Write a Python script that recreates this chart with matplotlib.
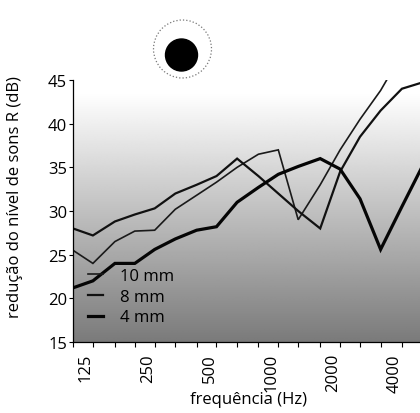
import numpy as np
import matplotlib
matplotlib.use("Agg")
import matplotlib.pyplot as plt
from matplotlib.patches import Circle
from matplotlib.transforms import ScaledTranslation

plt.rcParams['font.family'] = ['Open Sans', 'DejaVu Sans']

# third-octave band centres (Hz)
freqs = [100, 125, 160, 200, 250, 315, 400, 500, 630, 800, 1000, 1250,
         1600, 2000, 2500, 3150, 4000, 5000]

# sound reduction index R (dB) per glass thickness
r_10mm = [25.5, 24.0, 26.5, 27.7, 27.8, 30.2, 31.8, 33.3, 35.0, 36.5, 37.0, 29.0,
          33.0, 37.0, 40.5, 43.8, 48.0, np.nan]
r_8mm = [28.0, 27.2, 28.8, 29.6, 30.3, 32.0, 33.0, 34.0, 36.0, 34.0, 32.0, 30.0,
         28.0, 34.5, 38.5, 41.5, 44.0, 44.7]
r_4mm = [21.2, 22.0, 24.0, 24.0, 25.6, 26.8, 27.8, 28.2, 31.0, 32.7, 34.2, 35.1,
         36.0, 34.8, 31.4, 25.6, 30.5, 35.0]

labeled = [125, 250, 500, 1000, 2000, 4000]
yticks = [15, 20, 25, 30, 35, 40, 45]

W, H = 420, 414
fig = plt.figure(figsize=(W / 100, H / 100), dpi=100)
rect = [73 / W, 1 - 343 / H, 1 - 73 / W, 262 / H]

# shaded background, white at the top fading to grey at the bottom
bg = fig.add_axes(rect, zorder=0)
levels = np.linspace(45, 15, 400)
shade = np.clip(1 - (43.5 - levels) / 28.5 * 0.52, 0.45, 1.0)
bg.imshow(shade[:, None], cmap='gray', vmin=0, vmax=1, aspect='auto',
          extent=(0, 1, 0, 1), interpolation='bilinear')
bg.axis('off')

ax = fig.add_axes(rect, zorder=1)
ax.patch.set_visible(False)
ax.set_xscale('log')

ax.plot(freqs, r_10mm, color='#1a1a1a', lw=1.2, label='10 mm', solid_joinstyle='miter')
ax.plot(freqs, r_8mm, color='#111111', lw=1.6, label='8 mm', solid_joinstyle='miter')
ax.plot(freqs, r_4mm, color='#050505', lw=2.3, label='4 mm', solid_joinstyle='miter')

ax.set_xlim(100, 4900)
ax.set_ylim(15, 45)

ax.set_xticks(freqs[:-1])
ax.set_xticklabels([str(f) if f in labeled else '' for f in freqs[:-1]],
                   rotation=90, fontsize=12, va='top')
ax.xaxis.set_minor_locator(matplotlib.ticker.NullLocator())
ax.set_yticks(yticks)
ax.set_yticklabels([str(v) for v in yticks], fontsize=12)
ax.tick_params(axis='x', length=3.5, width=0.8, pad=4.5, direction='out')
ax.tick_params(axis='y', length=2.8, width=0.8, pad=1.5, direction='out')

shift = ScaledTranslation(-7 / 100, 0, fig.dpi_scale_trans)
for lab in ax.get_xticklabels():
    lab.set_transform(lab.get_transform() + shift)

for side in ('top', 'right'):
    ax.spines[side].set_visible(False)
for side in ('left', 'bottom'):
    ax.spines[side].set_linewidth(0.9)

fig.text(15 / W, 1 - 197 / H, 'redução do nível de sons R (dB)', rotation=90,
         ha='center', va='center', fontsize=12)
fig.text(249 / W, 1 - 400 / H, 'frequência (Hz)', ha='center', va='center',
         fontsize=12)

ax.legend(loc='upper left', bbox_to_anchor=(88 / W, 1 - 269 / H),
          bbox_transform=fig.transFigure, frameon=False, fontsize=12,
          handlelength=0.9, handletextpad=1.0, labelspacing=0.28,
          borderpad=0, borderaxespad=0)

# pane symbol: solid disc inside a dotted ring
fig.patches.append(Circle((1.825, (H - 50) / 100), 0.29, fill=False,
                          ls=':', lw=0.9, ec='#777777',
                          transform=fig.dpi_scale_trans))
fig.patches.append(Circle((1.815, (H - 56) / 100), 0.16, color='black',
                          transform=fig.dpi_scale_trans))

fig.savefig('out.png', dpi=100)
